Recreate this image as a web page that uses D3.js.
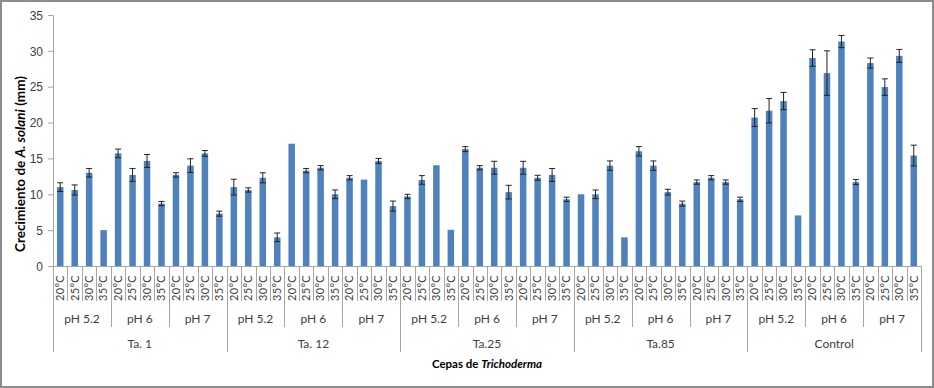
<!DOCTYPE html>
<html>
<head>
<meta charset="utf-8">
<script src="https://cdn.jsdelivr.net/npm/d3@7"></script>
<style>
  body { margin: 0; background: #fff; }
  svg { font-family: Lato, "Open Sans", sans-serif; }
  .axis text { fill: #404040; font-size: 12px; }
  .axis path, .axis line { stroke: #a6a6a6; }
</style>
</head>
<body>
<div id="chart"></div>
<script>
var strains = ["Ta. 1", "Ta. 12", "Ta.25", "Ta.85", "Control"];
var phLevels = ["pH 5.2", "pH 6", "pH 7"];
var temps = ["20°C", "25°C", "30°C", "35°C"];
var yTicks = [0, 5, 10, 15, 20, 25, 30, 35];

// growth (mm), 12 per strain: pH 5.2 / 6 / 7 x 20-35 °C
var meanTa1     = [11.0, 10.6, 13.0, 5.0,  15.7, 12.7, 14.65, 8.7,  12.7, 14.0, 15.7, 7.3];
var meanTa12    = [11.0, 10.6, 12.3, 4.0,  17.05, 13.3, 13.7, 10.0, 12.3, 12.05, 14.65, 8.35];
var meanTa25    = [9.7, 12.0, 14.05, 5.05, 16.3, 13.7, 13.7, 10.3,  13.7, 12.3, 12.7, 9.3];
var meanTa85    = [10.0, 10.0, 14.0, 4.0,  16.0, 14.0, 10.3, 8.7,   11.7, 12.3, 11.7, 9.3];
var meanControl = [20.7, 21.65, 23.0, 7.05, 29.0, 26.9, 31.3, 11.7, 28.3, 24.95, 29.3, 15.4];

var errTa1     = [0.6, 0.7, 0.6, 0,   0.6, 0.9, 0.9, 0.3,   0.3, 0.95, 0.4, 0.35];
var errTa12    = [1.1, 0.3, 0.7, 0.6, 0, 0.3, 0.3, 0.6,     0.3, 0, 0.35, 0.7];
var errTa25    = [0.3, 0.6, 0, 0,     0.35, 0.3, 0.9, 0.95, 0.9, 0.35, 0.9, 0.3];
var errTa85    = [0, 0.6, 0.65, 0,    0.65, 0.65, 0.4, 0.35, 0.3, 0.3, 0.3, 0.3];
var errControl = [1.25, 1.7, 1.2, 0,  1.15, 3.1, 0.85, 0.35, 0.7, 1.15, 0.9, 1.45];

var means = [meanTa1, meanTa12, meanTa25, meanTa85, meanControl];
var errs = [errTa1, errTa12, errTa25, errTa85, errControl];

// flatten into rows
var rows = [];
strains.forEach(function(s, si){
    phLevels.forEach(function(p, pi){
        temps.forEach(function(t, ti){
            var k = pi * 4 + ti;
            rows.push({key: s + '|' + p + '|' + t, strain: s, ph: p, temp: t,
                       value: means[si][k], err: errs[si][k]});
        });
    });
});

var W = 934, H = 388;
var svg = d3.select('#chart').append('svg')
    .attr('width', W)
    .attr('height', H);

svg.append('rect')
    .attr('x', 1).attr('y', 1)
    .attr('width', W - 2).attr('height', H - 2)
    .attr('fill', '#fff')
    .attr('stroke', '#8c8c8c')
    .attr('stroke-width', 2);

var plotLeft = 53, plotRight = 921, plotTop = 15, base = 266;

var x = d3.scaleBand()
    .domain(rows.map(function(d){ return d.key; }))
    .range([plotLeft, plotRight])
    .paddingInner(0.55)
    .paddingOuter(0.275);
var step = x.step();
var y = d3.scaleLinear().domain([0, 35]).range([base, plotTop]);

// y axis
var ya = svg.append('g')
    .attr('class', 'axis')
    .attr('transform', 'translate(' + plotLeft + ',0)')
    .call(d3.axisLeft(y).tickValues(yTicks).tickSize(5).tickPadding(5));
ya.selectAll('text').attr('dy', '0.35em');

// bars
svg.selectAll('.bar')
    .data(rows)
    .enter().append('rect')
    .attr('class', 'bar')
    .attr('x', function(d){ return x(d.key); })
    .attr('y', function(d){ return y(d.value); })
    .attr('width', x.bandwidth())
    .attr('height', function(d){ return base - y(d.value); })
    .attr('fill', '#4f81bd');

// error bars
var eb = svg.selectAll('.err')
    .data(rows.filter(function(d){ return d.err > 0; }))
    .enter().append('g')
    .attr('class', 'err')
    .attr('stroke', '#222')
    .attr('stroke-width', 1);
eb.append('line')
    .attr('x1', function(d){ return x(d.key) + x.bandwidth() / 2; })
    .attr('x2', function(d){ return x(d.key) + x.bandwidth() / 2; })
    .attr('y1', function(d){ return y(d.value + d.err); })
    .attr('y2', function(d){ return y(d.value - d.err); });
eb.selectAll('.cap')
    .data(function(d){ return [[d, d.value + d.err], [d, d.value - d.err]]; })
    .enter().append('line')
    .attr('x1', function(c){ return x(c[0].key) + x.bandwidth() / 2 - 3; })
    .attr('x2', function(c){ return x(c[0].key) + x.bandwidth() / 2 + 3; })
    .attr('y1', function(c){ return y(c[1]); })
    .attr('y2', function(c){ return y(c[1]); });

// x axis - multi level categories
var xa = svg.append('g').attr('class', 'axis');
xa.append('line')
    .attr('x1', plotLeft).attr('x2', plotRight)
    .attr('y1', base + 0.5).attr('y2', base + 0.5)
    .attr('stroke', '#a6a6a6');

var rowTemp = 301, rowPh = 327, rowStrain = 352;
rows.forEach(function(d, i){
    var x0 = x(d.key) - x.paddingInner() * step / 2;
    var len = rowTemp;
    if (i % 12 === 0) len = rowStrain;
    else if (i % 4 === 0) len = rowPh;
    xa.append('line')
        .attr('x1', Math.round(x0) + 0.5).attr('x2', Math.round(x0) + 0.5)
        .attr('y1', base).attr('y2', len)
        .attr('stroke', '#c8c8c8');
    xa.append('text')
        .attr('transform', 'translate(' + (x(d.key) + x.bandwidth() / 2) + ',' + (base + 9) + ') rotate(-90)')
        .attr('text-anchor', 'end')
        .attr('dy', '0.35em')
        .style('font-size', '11px')
        .style('letter-spacing', '0.3px')
        .text(d.temp);
});
xa.append('line')
    .attr('x1', plotRight + 0.5).attr('x2', plotRight + 0.5)
    .attr('y1', base).attr('y2', rowStrain)
    .attr('stroke', '#c8c8c8');

// pH labels and strain labels
strains.forEach(function(s){
    phLevels.forEach(function(p){
        var a = x(s + '|' + p + '|' + temps[0]);
        var b = x(s + '|' + p + '|' + temps[3]) + x.bandwidth();
        xa.append('text')
            .attr('x', (a + b) / 2)
            .attr('y', 319)
            .attr('dy', '0.35em')
            .attr('text-anchor', 'middle')
            .text(p);
    });
    var a = x(s + '|' + phLevels[0] + '|' + temps[0]);
    var b = x(s + '|' + phLevels[2] + '|' + temps[3]) + x.bandwidth();
    xa.append('text')
        .attr('x', (a + b) / 2)
        .attr('y', 344)
        .attr('dy', '0.35em')
        .attr('text-anchor', 'middle')
        .text(s);
});

// axis titles
var yt = svg.append('text')
    .attr('transform', 'translate(25,' + 164 + ') rotate(-90)')
    .attr('text-anchor', 'middle')
    .style('font-size', '13.5px')
    .style('font-weight', 'bold')
    .attr('fill', '#000');
yt.append('tspan').text('Crecimiento de ');
yt.append('tspan').style('font-style', 'italic').text('A. solani');
yt.append('tspan').text(' (mm)');

var xt = svg.append('text')
    .attr('x', (plotLeft + plotRight) / 2)
    .attr('y', 368)
    .attr('text-anchor', 'middle')
    .style('font-size', '11.5px')
    .style('font-weight', 'bold')
    .attr('fill', '#000');
xt.append('tspan').text('Cepas de ');
xt.append('tspan').style('font-style', 'italic').text('Trichoderma');
</script>
</body>
</html>
